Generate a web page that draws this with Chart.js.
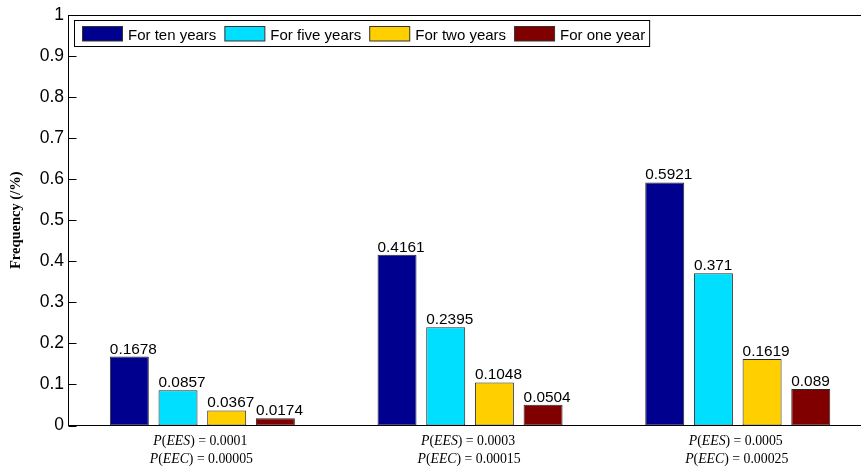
<!DOCTYPE html>
<html><head><meta charset="utf-8">
<script src="https://cdn.jsdelivr.net/npm/chart.js@4.4.1/dist/chart.umd.min.js"></script>
<style>
html,body{margin:0;padding:0;background:#fff;overflow:hidden;width:861px;height:471px}
#wrap{width:861px;height:471px;overflow:hidden;position:relative}
canvas{display:block}
</style></head>
<body><div id="wrap"><canvas id="c" width="900" height="471"></canvas></div>
<script>
// ---- data ----
const categories = ['G1', 'G2', 'G3'];
const eesLabels = ['P(EES) = 0.0001', 'P(EES) = 0.0003', 'P(EES) = 0.0005'];
const eecLabels = ['P(EEC) = 0.00005', 'P(EEC) = 0.00015', 'P(EEC) = 0.00025'];
const seriesNames = ['For ten years', 'For five years', 'For two years', 'For one year'];
const tenYears = [0.1678, 0.4161, 0.5921];
const fiveYears = [0.0857, 0.2395, 0.371];
const twoYears = [0.0367, 0.1048, 0.1619];
const oneYear = [0.0174, 0.0504, 0.089];
const yTicks = [0, 0.1, 0.2, 0.3, 0.4, 0.5, 0.6, 0.7, 0.8, 0.9, 1];
const yTickLabels = ['0', '0.1', '0.2', '0.3', '0.4', '0.5', '0.6', '0.7', '0.8', '0.9', '1'];
const yTitle = 'Frequency (/%)';

const colors = ['#00008F', '#00DFFF', '#FFCF00', '#800000'];
const seriesData = [tenYears, fiveYears, twoYears, oneYear];

const SANS = "'Liberation Sans', Arial, sans-serif";
const SERIF = "'Liberation Serif', 'Times New Roman', serif";

const overlay = {
  id: 'overlay',
  afterDraw(chart) {
    const ctx = chart.ctx;
    const ca = chart.chartArea;
    const ys = chart.scales.y, xs = chart.scales.x;
    ctx.save();
    // top box line
    ctx.strokeStyle = '#000'; ctx.lineWidth = 1;
    ctx.beginPath();
    const ty = Math.round(ca.top) + 0.5;
    ctx.moveTo(ca.left, ty); ctx.lineTo(ca.right, ty); ctx.stroke();
    // inward y ticks
    yTicks.forEach(v => {
      const y = Math.round(ys.getPixelForValue(v)) + 0.5;
      ctx.beginPath(); ctx.moveTo(ca.left, y); ctx.lineTo(ca.left + 8, y); ctx.stroke();
    });
    // value labels
    ctx.fillStyle = '#000';
    ctx.font = '15.4px ' + SANS;
    ctx.textAlign = 'left'; ctx.textBaseline = 'alphabetic';
    chart.data.datasets.forEach((ds, di) => {
      const meta = chart.getDatasetMeta(di);
      meta.data.forEach((bar, i) => {
        const p = bar.getProps(['x', 'y', 'width'], true);
        ctx.fillText(String(ds.data[i]), p.x - p.width / 2, p.y - 3);
      });
    });
    // x labels with math styling
    const drawMath = (str, cx, y) => {
      const parts = str.match(/[A-Za-z]+|[^A-Za-z]+/g);
      const fonts = parts.map(s => (/[A-Za-z]/.test(s) ? 'italic ' : '') + '13.8px ' + SERIF);
      let w = 0;
      const widths = parts.map((s, k) => { ctx.font = fonts[k]; const m = ctx.measureText(s).width; w += m; return m; });
      let x = cx - w / 2;
      ctx.textAlign = 'left';
      parts.forEach((s, k) => { ctx.font = fonts[k]; ctx.fillText(s, x, y); x += widths[k]; });
    };
    categories.forEach((c, i) => {
      const cx = xs.getPixelForValue(i);
      drawMath(eesLabels[i], cx - 2, 445);
      drawMath(eecLabels[i], cx - 1, 463);
    });
    // legend
    ctx.font = '15px ' + SANS;
    let x = 82.5;
    const items = [];
    chart.data.datasets.forEach((ds, di) => {
      const tw = ctx.measureText(ds.label).width;
      items.push({x, tw, ds});
      x += 40 + 5.5 + tw + 8.5;
    });
    const last = items[items.length - 1];
    const boxR = last.x + 45.5 + last.tw + 4.5;
    ctx.fillStyle = '#fff';
    ctx.fillRect(74.5, 20.5, boxR - 74.5, 26);
    ctx.strokeStyle = '#000';
    ctx.strokeRect(74.5, 20.5, boxR - 74.5, 26);
    items.forEach(it => {
      ctx.fillStyle = it.ds.backgroundColor;
      ctx.fillRect(it.x, 26.5, 40, 14.5);
      ctx.strokeStyle = '#333';
      ctx.strokeRect(it.x, 26.5, 40, 14.5);
      ctx.fillStyle = '#000';
      ctx.textBaseline = 'alphabetic';
      ctx.fillText(it.ds.label, it.x + 45.5, 39.5);
    });
    ctx.restore();
  }
};

new Chart(document.getElementById('c'), {
  type: 'bar',
  data: {
    labels: categories,
    datasets: seriesNames.map((n, k) => ({
      label: n,
      data: seriesData[k],
      backgroundColor: colors[k],
      borderColor: '#2a2a2a',
      borderWidth: 1,
      borderSkipped: false,
      categoryPercentage: 0.7274,
      barPercentage: 0.8008
    }))
  },
  options: {
    responsive: false,
    devicePixelRatio: 1,
    animation: false,
    layout: { padding: { left: 0, top: 14.5, right: 28.4, bottom: 0 } },
    plugins: { legend: { display: false }, tooltip: { enabled: false } },
    scales: {
      x: {
        offset: true,
        grid: { display: false, drawTicks: false },
        border: { display: true, color: '#000', width: 1 },
        ticks: { display: false },
        afterFit: s => { s.height = 45.5; }
      },
      y: {
        min: 0, max: 1,
        afterBuildTicks: s => { s.ticks = yTicks.map(v => ({ value: v })); },
        grid: { display: false, drawTicks: false },
        border: { display: true, color: '#000', width: 1 },
        ticks: {
          color: '#000',
          font: { family: SANS, size: 17.5 },
          padding: 4.5,
          callback: (v, i) => yTickLabels[yTicks.indexOf(v)] ?? String(v)
        },
        title: {
          display: true, text: yTitle, color: '#000',
          font: { family: SERIF, size: 14.5, weight: 'bold', lineHeight: 1.2 },
          padding: { top: 7.3, bottom: 0 }
        },
        afterFit: s => { s.width = 68.5; }
      }
    }
  },
  plugins: [overlay]
});
</script>
</body></html>
